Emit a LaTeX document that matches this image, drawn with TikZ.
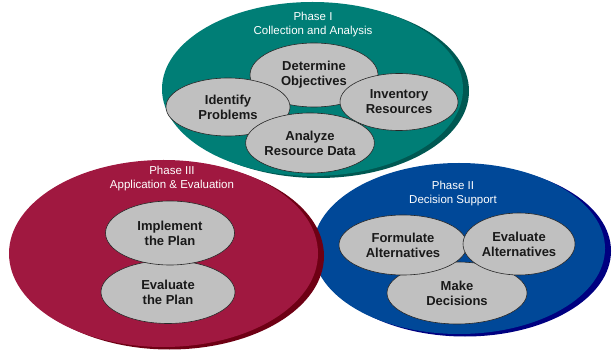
\documentclass[tikz,border=0pt]{standalone}
\usepackage{fontspec}
\setmainfont{Liberation Sans}
\usetikzlibrary{shapes.geometric}
\definecolor{tealc}{RGB}{0,126,118}
\definecolor{tealsh}{RGB}{0,88,82}
\definecolor{crim}{RGB}{160,24,64}
\definecolor{crimsh}{RGB}{110,0,20}
\definecolor{bluec}{RGB}{0,72,152}
\definecolor{bluesh}{RGB}{0,0,128}
\definecolor{inner}{RGB}{192,192,192}
\definecolor{innerline}{RGB}{40,40,40}
\definecolor{txt}{RGB}{25,25,25}
\tikzset{
  outer/.style={ellipse, inner sep=0pt, draw=none},
  item/.style={ellipse, inner sep=0pt, fill=inner, draw=innerline, line width=0.6pt,
    font=\fontsize{13}{15}\selectfont\bfseries, text=txt, align=center},
  phasetitle/.style={font=\fontsize{11.5}{14}\selectfont, text=white, align=center, inner sep=0pt}
}
\begin{document}
\begin{tikzpicture}[x=1pt,y=-1pt]
\useasboundingbox (0,0) rectangle (612,352);
% Phase II (blue)
\node[outer, fill=bluesh, minimum width=292pt, minimum height=171pt] (bsh) at (465,251) {};
\node[outer, fill=bluec, minimum width=292pt, minimum height=171pt] (blue) at (459,248.5) {};
\node[item, minimum width=140pt, minimum height=62pt] (make) at (457,293) {Make\\Decisions};
\node[item, minimum width=128pt, minimum height=60pt] (form) at (403,245) {Formulate\\Alternatives};
\node[item, minimum width=112pt, minimum height=62pt] (evalt) at (519,244) {Evaluate\\Alternatives};
\node[phasetitle] (t2) at (453,193.5) {Phase II\\Decision Support};
% Phase I (teal)
\node[outer, fill=tealsh, minimum width=301pt, minimum height=174pt] (tsh) at (318.5,91) {};
\node[outer, fill=tealc, minimum width=301pt, minimum height=174pt] (teal) at (312.5,89) {};
\node[item, minimum width=128pt, minimum height=64pt] (det) at (314,75) {Determine\\Objectives};
\node[item, minimum width=124pt, minimum height=58pt] (ident) at (228,107) {Identify\\Problems};
\node[item, minimum width=118pt, minimum height=57pt] (inv) at (399,102) {Inventory\\Resources};
\node[item, minimum width=120pt, minimum height=60pt] (anal) at (310,143) {Analyze\\Resource Data};
\node[phasetitle] (t1) at (313,25) {Phase I\\Collection and Analysis};
% Phase III (crimson)
\node[outer, fill=crimsh, minimum width=309pt, minimum height=187pt] (csh) at (169.5,256) {};
\node[outer, fill=crim, minimum width=309pt, minimum height=187pt] (crim) at (163.5,253.5) {};
\node[item, minimum width=134pt, minimum height=63pt] (evp) at (168,292) {Evaluate\\the Plan};
\node[item, minimum width=129pt, minimum height=64pt] (imp) at (170,233) {Implement\\the Plan};
\node[phasetitle] (t3) at (172,178.5) {Phase III\\Application \& Evaluation};
\end{tikzpicture}
\end{document}
